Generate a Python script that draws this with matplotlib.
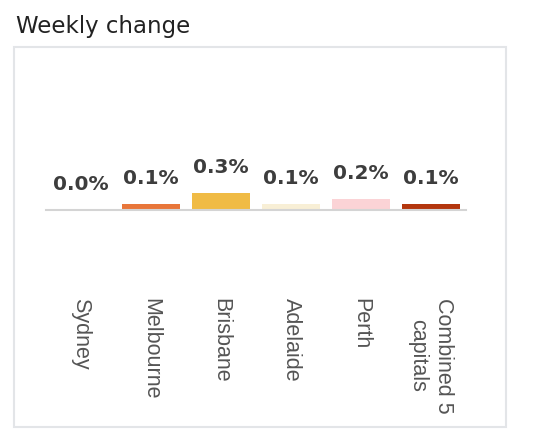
import matplotlib.pyplot as plt
from matplotlib.patches import Rectangle

cities = ["Sydney", "Melbourne", "Brisbane", "Adelaide", "Perth", "Combined 5\ncapitals"]
weekly_change = [0.0, 0.1, 0.3, 0.1, 0.2, 0.1]
bar_colors = ["#1f3b57", "#e8763a", "#f0bb45", "#f8efd6", "#fbd3d6", "#b3360d"]

W, H = 539, 446
fig = plt.figure(figsize=(W / 100, H / 100), dpi=100)
fig.patch.set_facecolor("white")

# title above the card
fig.text(16 / W, 1 - 26 / H, "Weekly change", fontsize=16.5, color="#222222",
         ha="left", va="center", family="DejaVu Sans")

# card border
fig.patches.append(Rectangle((14 / W, 1 - 427 / H), (506 - 14) / W, (427 - 47) / H,
                             transform=fig.transFigure, fill=False,
                             edgecolor="#e3e5e8", linewidth=1.5))

# axes: x from 46 to 466 px, baseline at 210 px
ax_left, ax_right, ax_bottom, ax_top = 46, 466, 210, 60
ax = fig.add_axes([ax_left / W, 1 - ax_bottom / H, (ax_right - ax_left) / W, (ax_bottom - ax_top) / H])
px_per_unit = 57.0
ax.set_ylim(0, (ax_bottom - ax_top) / px_per_unit)
ax.set_xlim(-0.5, len(cities) - 0.5)

x = range(len(cities))
ax.bar(x, weekly_change, width=0.84, color=bar_colors, zorder=2)

for i, v in enumerate(weekly_change):
    ax.annotate(f"{v:.1f}%", (i, v), xytext=(0, 11.5), textcoords="offset points",
                ha="center", va="bottom", fontsize=14.5, fontweight="bold",
                color="#3d3d3d", family="DejaVu Sans")

for s in ["top", "right", "left"]:
    ax.spines[s].set_visible(False)
ax.spines["bottom"].set_color("#d4d4d4")
ax.spines["bottom"].set_linewidth(1.5)
ax.set_yticks([])
ax.set_xticks(list(x))
ax.set_xticklabels(cities, rotation=270, fontsize=15.5, color="#555555",
                   family="Liberation Sans", ha="center", va="top",
                   multialignment="center", linespacing=1.3)
ax.tick_params(axis="x", length=0, pad=63)
ax.set_facecolor("none")

fig.savefig("out.png", dpi=100)
